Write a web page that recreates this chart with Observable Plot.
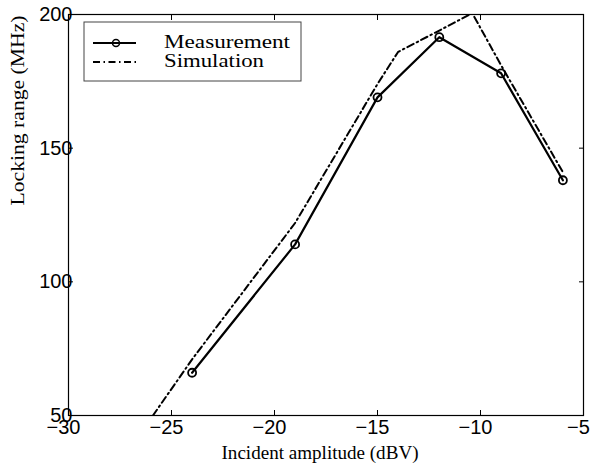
<!DOCTYPE html>
<html><head><meta charset="utf-8">
<script src="https://cdn.jsdelivr.net/npm/d3@7"></script>
<script src="https://cdn.jsdelivr.net/npm/@observablehq/plot@0.6"></script>
<style>body{margin:0;background:#fff}</style>
</head><body><div id="chart"></div>
<script>
const measX = [-24, -19, -15, -12, -9, -6];
const measY = [66, 114, 169, 191.5, 178, 138];
const simX = [-25.9, -24, -19, -15, -14, -12, -10.4, -9, -6];
const simY = [50, 71, 122, 174, 186, 194, 200.5, 181, 141];
const xTicks = [-30, -25, -20, -15, -10, -5];
const yTicks = [50, 100, 150, 200];
const seriesNames = ["Measurement", "Simulation"];
const xLabel = "Incident amplitude (dBV)";
const yLabel = "Locking range (MHz)";

const meas = measX.map((x, i) => ({x, y: measY[i]}));
const sim = simX.map((x, i) => ({x, y: simY[i]}));

const W = 590, H = 466;
const mL = 68, mR = 7, mT = 14, mB = 51;
const tickFont = "'Liberation Sans', Arial, sans-serif";
const serif = "'Liberation Serif', 'Times New Roman', serif";

const plot = Plot.plot({
  width: W, height: H,
  marginLeft: mL, marginRight: mR, marginTop: mT, marginBottom: mB,
  style: {fontFamily: tickFont, fontSize: "20px", color: "black", background: "white"},
  x: {domain: [-30, -5], ticks: xTicks},
  y: {domain: [50, 200], ticks: yTicks},
  marks: [
    Plot.axisX(xTicks, {anchor: "bottom", tickSize: -5, tickPadding: 9, label: null}),
    Plot.axisX(xTicks, {anchor: "top", tickSize: -5, tickFormat: () => "", label: null}),
    Plot.axisY(yTicks, {anchor: "left", tickSize: -5, tickPadding: 1, label: null}),
    Plot.axisY(yTicks, {anchor: "right", tickSize: -5, tickFormat: () => "", label: null}),
    Plot.line(sim, {x: "x", y: "y", stroke: "black", strokeWidth: 2, strokeDasharray: "7,3.5,1.5,3.5", clip: true}),
    Plot.line(meas, {x: "x", y: "y", stroke: "black", strokeWidth: 2.2}),
    Plot.dot(meas, {x: "x", y: "y", r: 4, stroke: "black", strokeWidth: 1.8, fill: "none"}),
    Plot.frame({stroke: "black", strokeWidth: 1.2}),
    Plot.text([xLabel], {frameAnchor: "bottom", text: d => d, dx: -6, dy: 37, fontFamily: serif, fontSize: 19, lineAnchor: "middle", className: "xlab"}),
    Plot.text([yLabel], {frameAnchor: "left", text: d => d, rotate: -90, dx: -51, dy: -9.5, fontFamily: serif, fontSize: 19, lineAnchor: "middle", className: "ylab"})
  ]
});

const svg = d3.select(plot);
svg.selectAll('[aria-label="x-axis tick label"] text').attr("dx", -5);
svg.select(".xlab text").attr("textLength", 197).attr("lengthAdjust", "spacingAndGlyphs");
svg.select(".ylab text").attr("textLength", 190).attr("lengthAdjust", "spacingAndGlyphs");

// Legend
const lg = svg.append("g").attr("aria-label", "legend");
const bx = mL + 16, by = mT + 8;
lg.append("rect").attr("x", bx).attr("y", by).attr("width", 217).attr("height", 59)
  .attr("fill", "white").attr("stroke", "#444").attr("stroke-width", 1);
const rows = [
  {name: seriesNames[0], dash: null, marker: true, w: 126},
  {name: seriesNames[1], dash: "7,3.5,1.5,3.5", marker: false, w: 100}
];
rows.forEach((r, i) => {
  const cy = by + 21 + i * 19;
  const ln = lg.append("line").attr("x1", bx + 9).attr("x2", bx + 52).attr("y1", cy).attr("y2", cy)
    .attr("stroke", "black").attr("stroke-width", 2);
  if (r.dash) ln.attr("stroke-dasharray", r.dash);
  if (r.marker) lg.append("circle").attr("cx", bx + 32).attr("cy", cy).attr("r", 3.5)
    .attr("fill", "none").attr("stroke", "black").attr("stroke-width", 1.5);
  lg.append("text").attr("x", bx + 80).attr("y", cy + 5).text(r.name)
    .attr("text-anchor", "start")
    .attr("font-family", serif).attr("font-size", 19.5).attr("fill", "black")
    .attr("textLength", r.w).attr("lengthAdjust", "spacingAndGlyphs");
});

document.getElementById("chart").appendChild(plot);
</script>
</body></html>
